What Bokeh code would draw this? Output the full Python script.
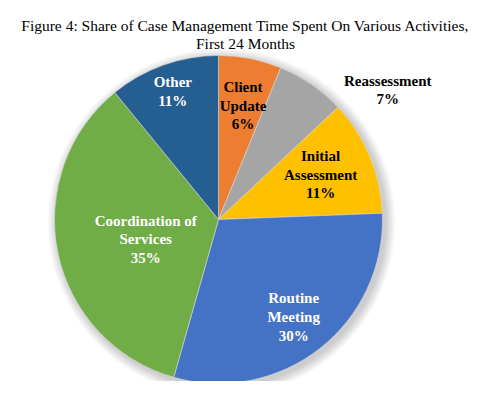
import math
from bokeh.plotting import figure
from bokeh.models import Range1d, ColumnDataSource
from bokeh.core.properties import value
from bokeh.embed import file_html
from bokeh.resources import INLINE

# ---- data ----
categories = ["Client Update", "Reassessment", "Initial Assessment",
              "Routine Meeting", "Coordination of Services", "Other"]
label_text = ["Client\nUpdate", "Reassessment", "Initial\nAssessment",
              "Routine\nMeeting", "Coordination of\nServices", "Other"]
shares = [6.2, 6.8, 11.4, 30.0, 34.7, 10.9]
colors = ["#ED7D31", "#A5A5A5", "#FFC000", "#4472C4", "#70AD47", "#255E91"]
text_colors = ["black", "black", "black", "white", "white", "white"]
# label placement (fraction of radius, angular nudge in degrees)
label_rfrac = [0.71, 1.30, 0.68, 0.75, 0.46, 0.83]
label_nudge = [1.0, 18.0, -1.0, 0.5, -3.5, 0.0]
title_lines = ["Figure 4: Share of Case Management Time Spent On Various Activities,",
               "First 24 Months"]

W, H = 476, 381
p = figure(width=W, height=H, output_backend="svg", toolbar_location=None,
           x_range=Range1d(0, W), y_range=Range1d(397 - H, 397),
           min_border=0)
p.axis.visible = False
p.grid.visible = False
p.outline_line_color = None
p.background_fill_color = "white"
p.border_fill_color = "white"

cx, cy_page, R = 218, 219, 164
cy = 397 - cy_page

# soft shadow
for k in range(10):
    p.circle(x=[cx + 3], y=[cy - 3], radius=R + 1 + k, fill_color="black",
             fill_alpha=0.018, line_color=None)

total = sum(shares)
starts, ends, mids = [], [], []
acc = 0.0
for s in shares:
    a0 = math.pi / 2 - 2 * math.pi * acc / total
    acc += s
    a1 = math.pi / 2 - 2 * math.pi * acc / total
    starts.append(a0)
    ends.append(a1)
    mids.append((a0 + a1) / 2)

src = ColumnDataSource(dict(start=starts, end=ends, color=colors))
p.wedge(x=cx, y=cy, radius=R, start_angle="start", end_angle="end",
        direction="clock", fill_color="color", line_color="#d9d9d9",
        line_width=0.6, source=src)

lx, ly, lt = [], [], []
for i, s in enumerate(shares):
    ang = mids[i] - math.radians(label_nudge[i])
    r = R * label_rfrac[i]
    lx.append(cx + r * math.cos(ang))
    ly.append(cy + r * math.sin(ang))
    lt.append(f"{label_text[i]}\n{round(s)}%")

lsrc = ColumnDataSource(dict(x=lx, y=ly, t=lt, c=text_colors))
p.text(x="x", y="y", text="t", text_color="c", source=lsrc,
       text_font=value("Liberation Serif"), text_font_style="bold",
       text_font_size="15px", text_align="center", text_baseline="middle",
       text_line_height=1.17)

p.text(x=[245, 245], y=[397 - 25, 397 - 43], text=title_lines,
       text_font=value("Liberation Serif"), text_font_size="15.5px",
       text_color="black", text_align="center", text_baseline="middle")

open("out.html", "w").write(file_html(p, INLINE))
